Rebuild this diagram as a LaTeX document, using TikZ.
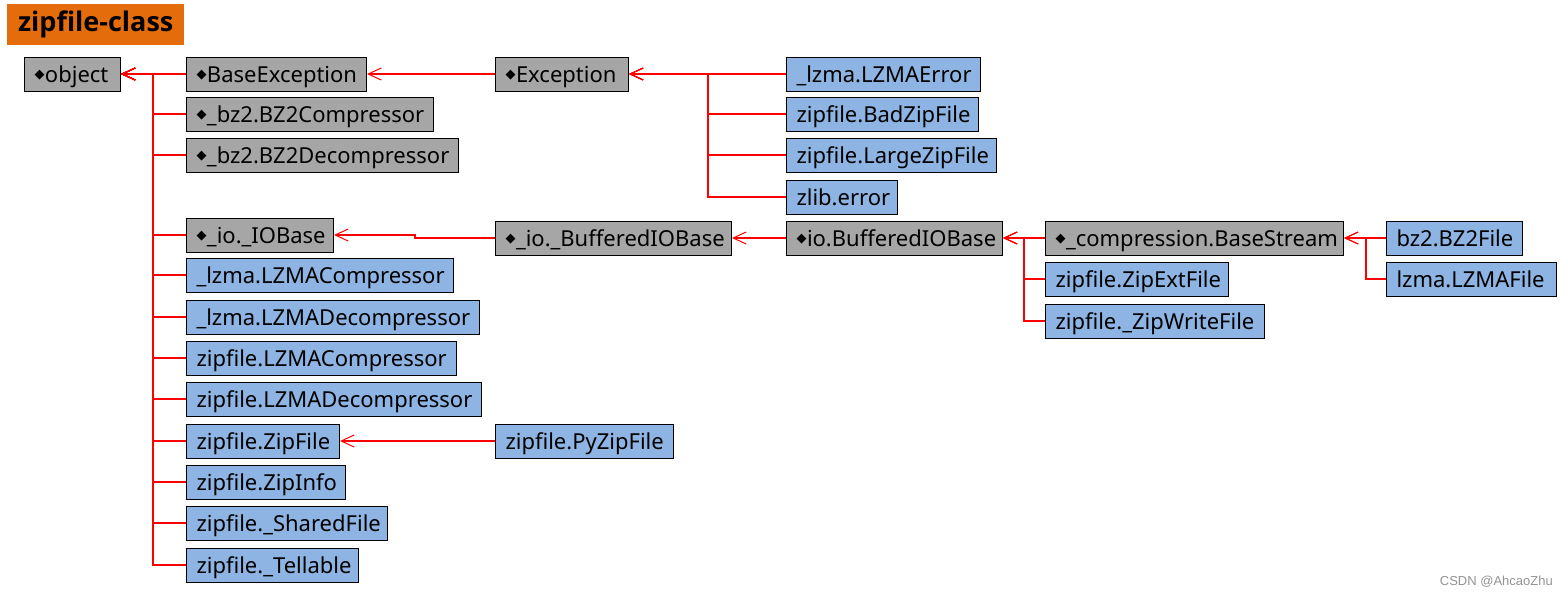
\documentclass[tikz,border=0pt]{standalone}
\usepackage{fontspec}
\setmainfont{Noto Sans}
\newfontfamily\symfont{DejaVu Sans}
\newfontfamily\titlefont{Open Sans}
\newfontfamily\markfont{Liberation Sans}
\usetikzlibrary{arrows.meta}
\definecolor{clsgray}{HTML}{A6A6A6}
\definecolor{clsblue}{HTML}{8DB4E2}
\definecolor{titleorange}{HTML}{E46C0A}
\newcommand{\dia}{\raisebox{3.8pt}{\symfont\fontsize{13}{13}\selectfont ◆}\kern0.5pt}
\tikzset{
  inharr/.style={-{Straight Barb[length=13pt,width=12pt,line width=1pt]}, line width=1.4pt, draw=red},
  clsnode/.style={draw=black, line width=1pt, anchor=west, minimum height=34pt, inner xsep=10pt, inner ysep=0pt, text height=19pt, text depth=3pt, align=left, text width=#1,
    execute at begin node={\hyphenpenalty=10000\exhyphenpenalty=10000\hbadness=10000\hfuzz=50pt}},
}

\begin{document}
\begin{tikzpicture}[
  x=1pt, y=-1pt,
  font=\fontsize{22}{24}\selectfont,
  gcls/.style={clsnode=#1, fill=clsgray},
  bcls/.style={clsnode=#1, fill=clsblue},
]
  \useasboundingbox (0,0) rectangle (1568,598);
  \node[fill=titleorange, minimum width=177pt, minimum height=41pt, inner sep=0pt, anchor=north west, font=\titlefont\fontsize{27}{30}\selectfont\bfseries] (title) at (7,4) {zipfile-class};

  \node[gcls=76pt] (object) at (24,74) {\dia object};
  \node[gcls=160pt] (baseexc) at (186,74) {\dia BaseException};
  \node[gcls=227pt] (bz2comp) at (186,114) {\dia \_bz2.BZ2Compressor};
  \node[gcls=252pt] (bz2decomp) at (186,155) {\dia \_bz2.BZ2Decompressor};
  \node[gcls=127pt] (iobase) at (186,235) {\dia \_io.\_IOBase};
  \node[bcls=247pt] (lzmacomp) at (186,275) {\_lzma.LZMACompressor};
  \node[bcls=273pt] (lzmadecomp) at (186,317) {\_lzma.LZMADecompressor};
  \node[bcls=250pt] (zlzmacomp) at (186,358) {zipfile.LZMACompressor};
  \node[bcls=275pt] (zlzmadecomp) at (186,399) {zipfile.LZMADecompressor};
  \node[bcls=133pt] (zipfile) at (186,441) {zipfile.ZipFile};
  \node[bcls=139pt] (zipinfo) at (186,482) {zipfile.ZipInfo};
  \node[bcls=181pt] (shared) at (186,523) {zipfile.\_SharedFile};
  \node[bcls=152pt] (tellable) at (186,565) {zipfile.\_Tellable};

  \node[gcls=113pt] (exc) at (495,74) {\dia Exception};
  \node[gcls=216pt] (bufiobase) at (495,238) {\dia \_io.\_BufferedIOBase};
  \node[bcls=158pt] (pyzip) at (495,441) {zipfile.PyZipFile};

  \node[bcls=174pt] (lzmaerr) at (786,74) {\_lzma.LZMAError};
  \node[bcls=172pt] (badzip) at (786,114) {zipfile.BadZipFile};
  \node[bcls=190pt] (largezip) at (786,155) {zipfile.LargeZipFile};
  \node[bcls=91pt] (zliberr) at (786,197) {zlib.error};
  \node[gcls=196pt] (iobuf) at (786,238) {\dia io.BufferedIOBase};

  \node[gcls=278pt] (basestream) at (1045,238) {\dia \_compression.BaseStream};
  \node[bcls=163pt] (zipext) at (1045,279) {zipfile.ZipExtFile};
  \node[bcls=199pt] (zipwrite) at (1045,321) {zipfile.\_ZipWriteFile};

  \node[bcls=116pt] (bz2file) at (1386,238) {bz2.BZ2File};
  \node[bcls=150pt] (lzmafile) at (1386,279) {lzma.LZMAFile};

  \coordinate (tobj) at (153,0);
  \coordinate (texc) at (708,0);
  \coordinate (tbuf) at (1024,0);
  \coordinate (tstream) at (1366,0);
  \coordinate (jio) at (415,0);
  \coordinate (jzip) at (418,0);

  \foreach \c in {baseexc,bz2comp,bz2decomp,iobase,lzmacomp,lzmadecomp,zlzmacomp,zlzmadecomp,zipfile,zipinfo,shared,tellable}
    \draw[inharr] (\c.west) -- (\c.west -| tobj) |- (object.east);
  \foreach \c in {lzmaerr,badzip,largezip,zliberr}
    \draw[inharr] (\c.west) -- (\c.west -| texc) |- (exc.east);
  \foreach \c in {basestream,zipext,zipwrite}
    \draw[inharr] (\c.west) -- (\c.west -| tbuf) |- (iobuf.east);
  \foreach \c in {bz2file,lzmafile}
    \draw[inharr] (\c.west) -- (\c.west -| tstream) |- (basestream.east);
  \draw[inharr] (exc.west) -- (baseexc.east);
  \draw[inharr] (iobuf.west) -- (bufiobase.east);
  \draw[inharr] (bufiobase.west) -- (bufiobase.west -| jio) |- (iobase.east);
  \draw[inharr] (pyzip.west) -- (pyzip.west -| jzip) |- (zipfile.east);

  \node[anchor=east, inner sep=0pt, text=gray!85, font=\markfont\fontsize{13}{15}\selectfont] (mark) at (1553,582) {CSDN @AhcaoZhu};
\end{tikzpicture}
\end{document}
